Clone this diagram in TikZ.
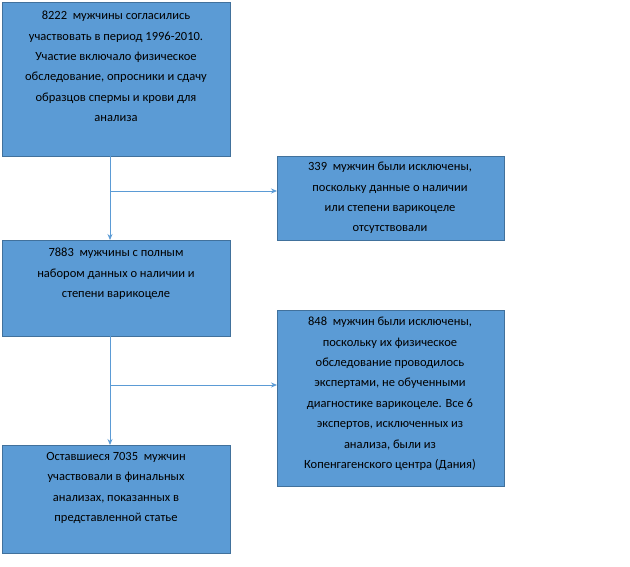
\documentclass[tikz,border=0pt]{standalone}
\usepackage{fontspec}
\setmainfont{Carlito}
\usetikzlibrary{arrows.meta}
\definecolor{boxfill}{HTML}{5B9BD5}
\definecolor{boxline}{HTML}{41719C}
\definecolor{arr}{HTML}{5B9BD5}
\begin{document}
\begin{tikzpicture}[x=1pt,y=-1pt,
  box/.style={draw=boxline,fill=boxfill,line width=0.8pt},
  txt/.style={align=center,anchor=north,font=\fontsize{12.5}{20.4}\selectfont,inner sep=0pt},
  conn/.style={draw=arr,line width=0.8pt},
  arw/.style={conn,-{Stealth[length=6pt,width=5pt]}}]
\useasboundingbox (0,0) rectangle (630,567);
\path[box] (2,2) rectangle (230,156);
\path[box] (277,156) rectangle (504,240);
\path[box] (2,240) rectangle (230,336);
\path[box] (277,310) rectangle (504,486);
\path[box] (2,445) rectangle (230,553);
\coordinate (b1) at (110,156); \coordinate (b3t) at (110,240);
\coordinate (b3) at (110,336); \coordinate (b5t) at (110,445);
\coordinate (j1) at (110,191); \coordinate (b2l) at (277,191);
\coordinate (j2) at (110,385); \coordinate (b4l) at (277,385);
\node[txt] (t1) at (116,11) {8222 \ мужчины согласились\\участвовать в период 1996-2010.\\Участие включало физическое\\обследование, опросники и сдачу\\образцов спермы и крови для\\анализа};
\begin{scope}
\clip (277,156) rectangle (504,239);
\node[txt] (t2) at (390,162) {339 \ мужчин были исключены,\\поскольку данные о наличии\\или степени варикоцеле\\отсутствовали};
\end{scope}
\node[txt] (t3) at (116,248) {7883 \ мужчины с полным\\набором данных о наличии и\\степени варикоцеле};
\node[txt] (t4) at (390,317) {848 \ мужчин были исключены,\\поскольку их физическое\\обследование проводилось\\экспертами, не обученными\\диагностике варикоцеле. Все 6\\экспертов, исключенных из\\анализа, были из\\Копенгагенского центра (Дания)};
\node[txt] (t5) at (116,452) {Оставшиеся 7035 \ мужчин\\участвовали в финальных\\анализах, показанных в\\представленной статье};
\draw[arw] (b1) -- (b3t);
\draw[arw] (j1) -- (b2l);
\draw[arw] (b3) -- (b5t);
\draw[arw] (j2) -- (b4l);
\end{tikzpicture}
\end{document}
